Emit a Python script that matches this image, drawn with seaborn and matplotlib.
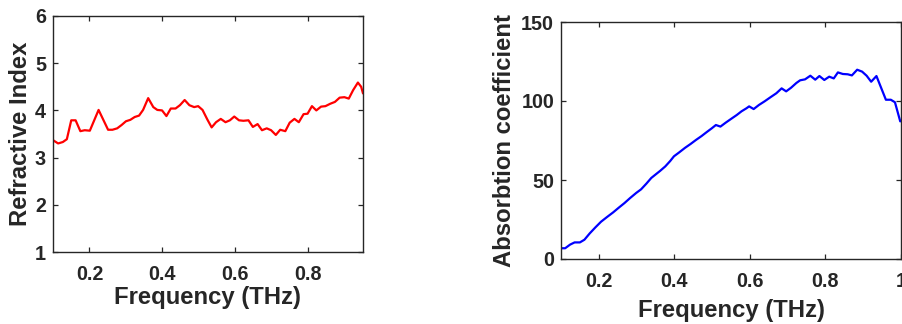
import numpy as np
import pandas as pd
import matplotlib
matplotlib.use("Agg")
import matplotlib.pyplot as plt
import seaborn as sns

# ---- data ----
freq_n = [0.100, 0.114, 0.127, 0.138, 0.150, 0.162, 0.175, 0.187, 0.201, 0.225,
          0.251, 0.263, 0.276, 0.288, 0.300, 0.312, 0.324, 0.336, 0.347, 0.361,
          0.375, 0.386, 0.399, 0.411, 0.423, 0.436, 0.448, 0.461, 0.474, 0.487,
          0.498, 0.510, 0.523, 0.535, 0.547, 0.560, 0.573, 0.585, 0.597, 0.610,
          0.622, 0.636, 0.648, 0.661, 0.673, 0.686, 0.698, 0.711, 0.723, 0.737,
          0.749, 0.762, 0.774, 0.787, 0.798, 0.810, 0.822, 0.835, 0.847, 0.860,
          0.873, 0.886, 0.899, 0.911, 0.923, 0.936, 0.945, 0.950]
refr_index = [3.37, 3.30, 3.33, 3.39, 3.79, 3.79, 3.56, 3.58, 3.57, 4.01,
              3.59, 3.59, 3.62, 3.69, 3.77, 3.80, 3.86, 3.89, 4.01, 4.26,
              4.07, 4.01, 4.00, 3.88, 4.04, 4.04, 4.11, 4.22, 4.11, 4.07,
              4.09, 4.01, 3.81, 3.64, 3.75, 3.82, 3.75, 3.79, 3.87, 3.79,
              3.78, 3.79, 3.65, 3.71, 3.58, 3.62, 3.58, 3.48, 3.59, 3.56,
              3.74, 3.82, 3.75, 3.92, 3.93, 4.09, 4.00, 4.08, 4.09, 4.14,
              4.18, 4.27, 4.28, 4.25, 4.43, 4.59, 4.50, 4.36]

freq_a = [0.100, 0.111, 0.124, 0.136, 0.150, 0.162, 0.176, 0.191, 0.206, 0.222,
          0.238, 0.253, 0.268, 0.283, 0.299, 0.312, 0.326, 0.339, 0.352, 0.362,
          0.376, 0.389, 0.399, 0.413, 0.428, 0.443, 0.457, 0.472, 0.485, 0.499,
          0.510, 0.522, 0.536, 0.551, 0.565, 0.578, 0.591, 0.598, 0.610, 0.624,
          0.639, 0.654, 0.670, 0.684, 0.696, 0.709, 0.723, 0.733, 0.746, 0.760,
          0.773, 0.784, 0.797, 0.810, 0.822, 0.833, 0.846, 0.859, 0.870, 0.884,
          0.897, 0.909, 0.921, 0.935, 0.947, 0.960, 0.973, 0.984, 0.998]
absorption = [6.8, 6.8, 9.1, 10.5, 10.5, 12.2, 16.2, 20.0, 23.6, 26.6,
              29.5, 32.5, 35.4, 38.6, 41.8, 44.1, 47.7, 51.3, 53.8, 55.7,
              58.6, 62.0, 65.0, 67.5, 70.3, 72.8, 75.3, 77.8, 80.2, 82.7,
              84.8, 83.8, 86.3, 88.8, 91.1, 93.5, 95.4, 96.6, 94.9, 97.5,
              99.8, 102.3, 104.9, 108.0, 106.1, 108.4, 111.4, 113.1, 113.7, 116.0,
              113.5, 115.8, 113.3, 115.4, 114.3, 118.1, 117.1, 116.9, 116.2, 119.8,
              118.6, 116.0, 112.2, 115.8, 108.6, 100.8, 100.8, 99.2, 87.1]

xticks_left = [0.2, 0.4, 0.6, 0.8]
xticklabels_left = ["0.2", "0.4", "0.6", "0.8"]
yticks_left = [1, 2, 3, 4, 5, 6]
xticks_right = [0.2, 0.4, 0.6, 0.8, 1.0]
xticklabels_right = ["0.2", "0.4", "0.6", "0.8", "1"]
yticks_right = [0, 50, 100, 150]

df_n = pd.DataFrame({"Frequency": freq_n, "Index": refr_index})
df_a = pd.DataFrame({"Frequency": freq_a, "Absorption": absorption})

sns.set_theme(style="ticks")
plt.rcParams["font.family"] = ["Liberation Sans", "DejaVu Sans"]
plt.rcParams["font.weight"] = "bold"

TXT = "#262626"
fig = plt.figure(figsize=(9.02, 3.24), dpi=100)
ax1 = fig.add_axes([53 / 902, 1 - 252 / 324, (363 - 53) / 902, (252 - 16) / 324])
ax2 = fig.add_axes([561 / 902, 1 - 259 / 324, (901 - 561) / 902, (259 - 22) / 324])

sns.lineplot(data=df_n, x="Frequency", y="Index", ax=ax1, color="#ff0000",
             linewidth=1.6, sort=False)
sns.lineplot(data=df_a, x="Frequency", y="Absorption", ax=ax2, color="#0000ff",
             linewidth=1.6, sort=False)

ax1.set_xlim(0.1, 0.95)
ax1.set_ylim(1, 6)
ax1.set_xticks(xticks_left)
ax1.set_xticklabels(xticklabels_left)
ax1.set_yticks(yticks_left)
ax1.set_yticklabels([str(v) for v in yticks_left])

ax2.set_xlim(0.1, 1.0)
ax2.set_ylim(0, 150)
ax2.set_xticks(xticks_right)
ax2.set_xticklabels(xticklabels_right)
ax2.set_yticks(yticks_right)
ax2.set_yticklabels([str(v) for v in yticks_right])

for ax, ylab, xpad, ypad in [(ax1, "Refractive Index", 1.0, 2.0),
                             (ax2, "Absorbtion coefficient", 5.5, 3.5)]:
    ax.set_xlabel("Frequency (THz)", fontsize=17.2, fontweight="bold", color=TXT, labelpad=xpad)
    ax.set_ylabel(ylab, fontsize=17.2, fontweight="bold", color=TXT, labelpad=ypad)
    for s in ax.spines.values():
        s.set_visible(True)
        s.set_color(TXT)
        s.set_linewidth(1.0)
    ax.tick_params(direction="in", length=3.5, width=0.9, color=TXT,
                   labelsize=14.2, labelcolor=TXT, top=True, right=True,
                   labeltop=False, labelright=False)
    ax.tick_params(axis="x", pad=9.5)
    ax.tick_params(axis="y", pad=5)
    for lab in ax.get_xticklabels() + ax.get_yticklabels():
        lab.set_fontweight("bold")
    ax.grid(False)

fig.savefig("out.png", dpi=100)
